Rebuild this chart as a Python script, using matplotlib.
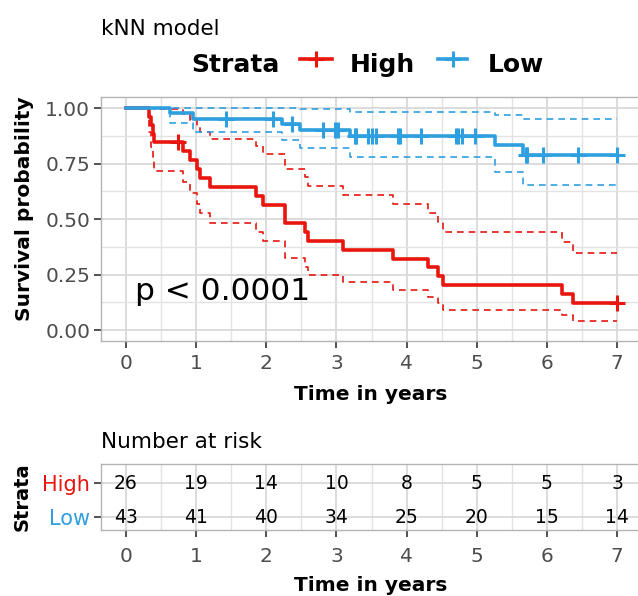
import numpy as np
import matplotlib
matplotlib.use("Agg")
import matplotlib.pyplot as plt
from matplotlib.lines import Line2D

plt.rcParams['font.family'] = ['DejaVu Sans']

# ---------------- data ----------------
high_time  = [0, 0.33, 0.36, 0.38, 0.40, 0.82, 0.91, 1.01, 1.05, 1.20, 1.86, 1.96,
              2.26, 2.55, 2.60, 3.10, 3.81, 4.31, 4.45, 4.52, 6.21, 6.37, 7.0]
high_surv  = [1, .962, .923, .885, .846, .806, .765, .725, .685, .645, .604, .564,
              .484, .443, .403, .363, .322, .282, .242, .201, .161, .121, .121]
high_upper = [1, 1, 1, 1, .997, .974, .949, .921, .892, .862, .829, .796,
              .725, .688, .650, .610, .570, .528, .485, .441, .395, .349, .349]
high_lower = [1, .891, .826, .770, .718, .666, .617, .570, .526, .483, .440, .400,
              .323, .286, .250, .216, .182, .151, .121, .092, .066, .042, .042]
high_censor = [0.745, 7.0]

low_time  = [0, 0.63, 0.96, 2.22, 2.48, 3.19, 5.26, 5.66, 7.0]
low_surv  = [1, .977, .953, .929, .904, .876, .833, .789, .789]
low_upper = [1, 1, 1, 1, .998, .984, .971, .951, .951]
low_lower = [1, .933, .893, .855, .819, .780, .714, .655, .655]
low_censor = [1.43, 2.09, 2.36, 2.81, 2.98, 3.02, 3.26, 3.28, 3.45, 3.50, 3.57,
              3.88, 3.90, 4.20, 4.70, 4.74, 4.79, 4.98, 5.70, 5.72, 5.94, 6.44, 7.0]

risk_times = [0, 1, 2, 3, 4, 5, 6, 7]
risk_high = [26, 19, 14, 10, 8, 5, 5, 3]
risk_low = [43, 41, 40, 34, 25, 20, 15, 14]

strata = ["High", "Low"]
pvalue_text = "p < 0.0001"
title = "kNN model"
xlabel = "Time in years"
ylabel = "Survival probability"

RED = '#E8160F'
BLUE = '#2E9FDF'
TICKLAB = '#4D4D4D'

W, H = 638, 596
fig = plt.figure(figsize=(W / 100, H / 100), dpi=100)


def fx(px):
    return px / W


def fy(py):
    return 1 - py / H


def style(ax):
    ax.set_facecolor('white')
    for s in ax.spines.values():
        s.set_color('#B3B3B3')
        s.set_linewidth(1.0)
    ax.tick_params(axis='both', which='major', colors='#333333', labelcolor=TICKLAB,
                   length=5, width=1.2, labelsize=14.5, pad=3)
    ax.tick_params(which='minor', length=0)
    ax.grid(True, which='major', color='#D9D9D9', lw=1.3)
    ax.grid(True, which='minor', color='#E3E3E3', lw=1.0)
    ax.set_axisbelow(True)


# ---------------- main survival panel ----------------
x_left, x_right = 101.4, 641.6
ax = fig.add_axes([fx(x_left), fy(341.1), (x_right - x_left) / W, (341.1 - 97.2) / H])
style(ax)
ax.set_xlim(-0.35, 7.35)
ax.set_ylim(-0.05, 1.05)
ax.set_xticks(risk_times)
ax.set_xticks([0.5, 1.5, 2.5, 3.5, 4.5, 5.5, 6.5], minor=True)
ax.set_yticks([0, 0.25, 0.5, 0.75, 1.0])
ax.set_yticklabels(["0.00", "0.25", "0.50", "0.75", "1.00"])
ax.set_yticks([0.125, 0.375, 0.625, 0.875], minor=True)
ax.tick_params(axis='x', pad=4)

dash = (0, (4, 3))


def draw_group(t, s, up, lo, cens, color):
    ax.step(t, up, where='post', color=color, lw=1.2, ls=dash)
    ax.step(t, lo, where='post', color=color, lw=1.2, ls=dash)
    ax.step(t, s, where='post', color=color, lw=2.6)
    t_arr = np.asarray(t)
    s_arr = np.asarray(s)
    idx = np.searchsorted(t_arr, np.asarray(cens), side='right') - 1
    ax.plot(cens, s_arr[idx], ls='none', marker='+', ms=11, mew=2.2, color=color)


draw_group(high_time, high_surv, high_upper, high_lower, high_censor, RED)
draw_group(low_time, low_surv, low_upper, low_lower, low_censor, BLUE)

ax.text(0.13, 0.135, pvalue_text, fontsize=22.5, ha='left', va='baseline', color='black')

# titles / labels
fig.text(fx(101), fy(35), title, fontsize=15.5, ha='left', va='baseline', color='black')
fig.text(fx(25), fy(209), ylabel, rotation=90, fontsize=14.5, fontweight='bold',
         ha='center', va='center')
fig.text(fx(371), fy(394), xlabel, fontsize=14.5, fontweight='bold', ha='center', va='center')

# legend (manual, horizontal)
ly = 59
fig.text(fx(191.7), fy(72), "Strata", fontsize=18, fontweight='bold', ha='left', va='baseline')
for (x0, x1, tx, lab, col) in [(300, 331.7, 350, strata[0], RED), (438, 467, 488, strata[1], BLUE)]:
    fig.add_artist(Line2D([fx(x0), fx(x1)], [fy(ly), fy(ly)], transform=fig.transFigure,
                          color=col, lw=2.6))
    fig.add_artist(Line2D([fx((x0 + x1) / 2)], [fy(ly)], transform=fig.transFigure,
                          color=col, marker='+', ms=11, mew=2.2, ls='none'))
    fig.text(fx(tx), fy(72), lab, fontsize=18, fontweight='bold', ha='left', va='baseline')

# ---------------- risk table ----------------
ax2 = fig.add_axes([fx(x_left), fy(530), (x_right - x_left) / W, 66 / H])
style(ax2)
ax2.set_xlim(-0.35, 7.35)
ax2.set_ylim(0.62, 2.56)
ax2.set_xticks(risk_times)
ax2.set_xticks([0.5, 1.5, 2.5, 3.5, 4.5, 5.5, 6.5], minor=True)
ax2.set_yticks([1, 2])
ax2.set_yticklabels([strata[1], strata[0]])
ax2.tick_params(axis='y', labelsize=15, pad=3)
ax2.tick_params(axis='x', pad=7)
for lab, col in zip(ax2.get_yticklabels(), [BLUE, RED]):
    lab.set_color(col)
for t, nh, nl in zip(risk_times, risk_high, risk_low):
    ax2.text(t, 2, str(nh), ha='center', va='center', fontsize=13.5, color='black')
    ax2.text(t, 1, str(nl), ha='center', va='center', fontsize=13.5, color='black')

fig.text(fx(101), fy(448), "Number at risk", fontsize=15.5, ha='left', va='baseline')
fig.text(fx(22), fy(497), "Strata", rotation=90, fontsize=14, fontweight='bold',
         ha='center', va='center')
fig.text(fx(371), fy(591), xlabel, fontsize=14.5, fontweight='bold', ha='center', va='baseline')

fig.savefig("out.png", dpi=100)
